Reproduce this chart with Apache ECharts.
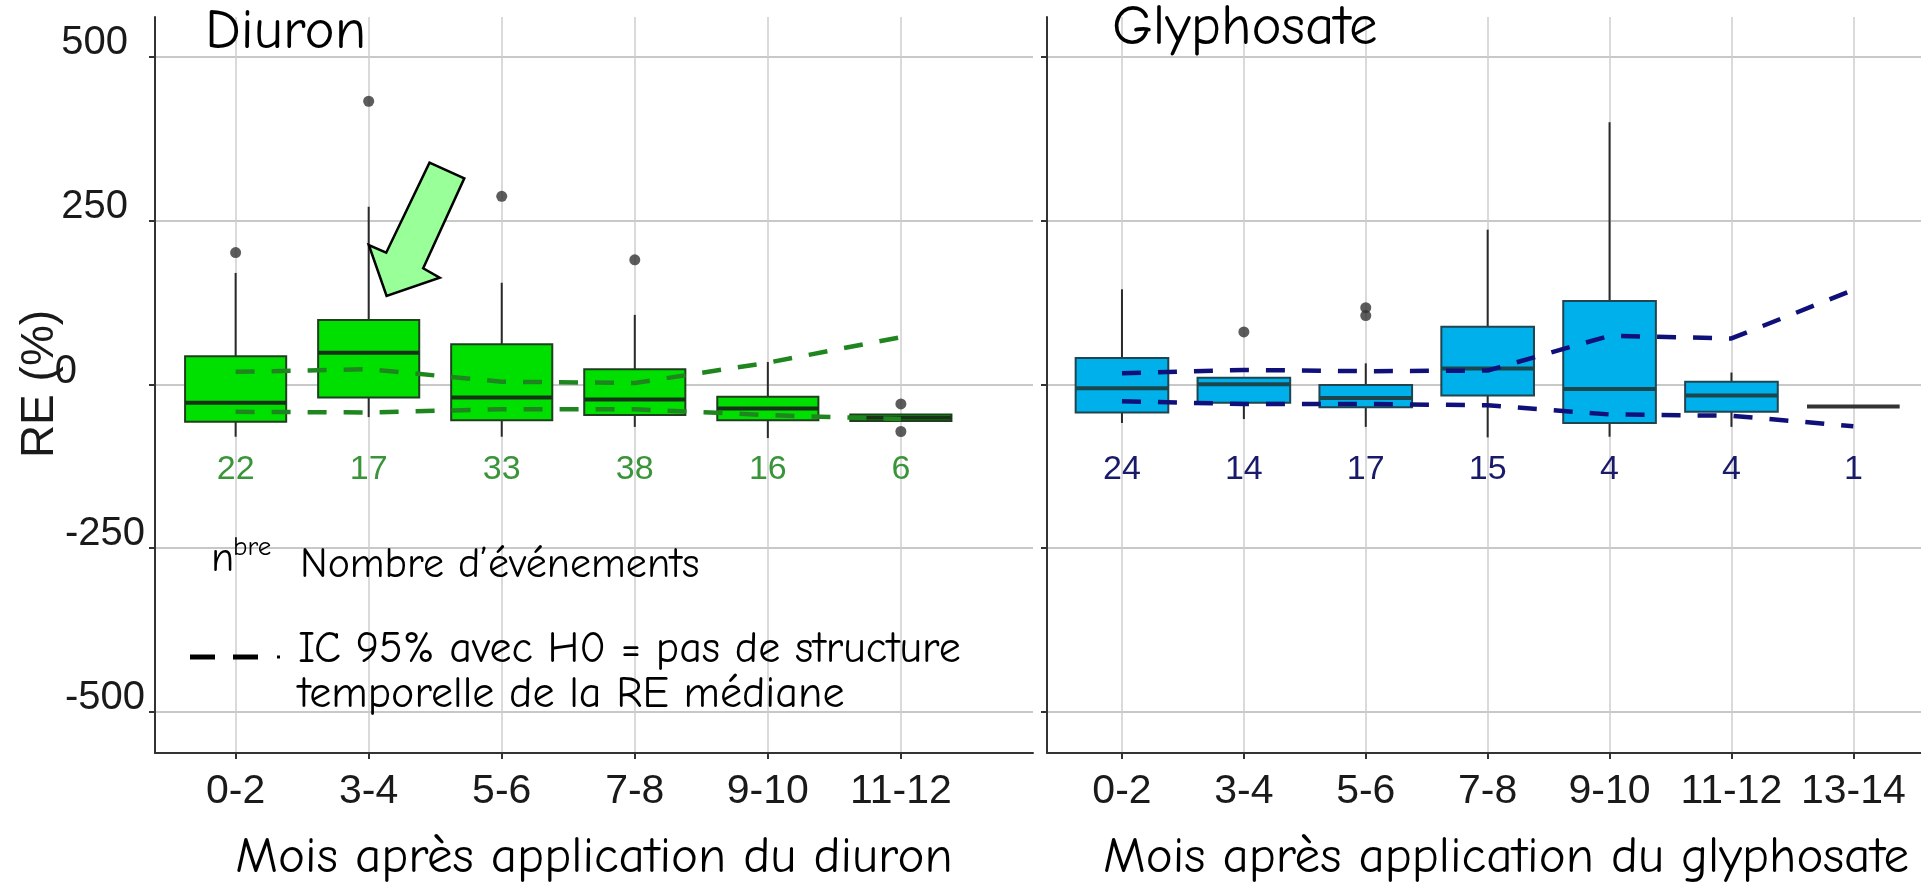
<!DOCTYPE html>
<html><head><meta charset="utf-8">
<script src="https://cdn.jsdelivr.net/npm/echarts@6/dist/echarts.min.js"></script>
<style>html,body{margin:0;padding:0;background:#fff}#c{width:1921px;height:896px}</style>
</head><body><div id="c"></div>
<script>
// ---------- DATA ----------
const diuronCategories = ['0-2', '3-4', '5-6', '7-8', '9-10', '11-12'];
const glyphoCategories = ['0-2', '3-4', '5-6', '7-8', '9-10', '11-12', '13-14'];
// each box: [lower whisker, Q1, median, Q3, upper whisker]
const diuronBoxes = [
  [-80, -57, -28, 43, 170],
  [-50, -20, 48, 98, 271],
  [-80, -55, -20, 61, 155],
  [-65, -47, -23, 23, 106],
  [-82, -55, -37, -19, 34],
  [-56, -56, -51, -46, -46]
];
const glyphoBoxes = [
  [-59, -43, -6, 40, 145],
  [-53, -28, 0, 10, 10],
  [-65, -35, -21, -1, 32],
  [-81, -17, 24, 88, 236],
  [-80, -59, -7, 127, 400],
  [-65, -42, -17, 4, 18],
  [-34, -34, -34, -34, -34]
];
const diuronOutliers = [['0-2', 201], ['3-4', 432], ['5-6', 287], ['7-8', 190], ['11-12', -30], ['11-12', -72]];
const glyphoOutliers = [['3-4', 80], ['5-6', 117], ['5-6', 105]];
const diuronCounts = [22, 17, 33, 38, 16, 6];
const glyphoCounts = [24, 14, 17, 15, 4, 4, 1];
const diuronIcUpper = [19, 23, 4, 2, 33, 72];
const diuronIcLower = [-42, -43, -38, -38, -47, -53];
const glyphoIcUpper = [17, 22, 20, 21, 74, 70, 144];
const glyphoIcLower = [-26, -30, -30, -32, -46, -48, -64];
const yTickValues = [-500, -250, 0, 250, 500];

// ---------- STYLE / LAYOUT ----------
const COUNT_Y = -130;
const BOX_WIDTH = 0.76;
const Y_MIN = -562.7, Y_MAX = 560.6;
const XL_MIN = 0.394, XL_MAX = 6.993, XR_MIN = 0.385, XR_MAX = 7.555;
const TICK_FONT = '"Liberation Sans", Arial, sans-serif';
const HAND_FONT = '"Comic Sans MS", "Comic Neue", "Noto Sans", sans-serif';
const styles = {
  diuron: { fill: '#00e000', border: '#1f3f1f', median: '#183218', ic: '#1f861f', count: '#3a953a' },
  glypho: { fill: '#00b0ea', border: '#204550', median: '#1b464c', ic: '#10107a', count: '#1a1a6a' }
};

function boxRenderer(st) {
  return function (params, api) {
    const x = api.value(0);
    const lo = api.coord([x, api.value(1)]);
    const q1 = api.coord([x, api.value(2)]);
    const md = api.coord([x, api.value(3)]);
    const q3 = api.coord([x, api.value(4)]);
    const hi = api.coord([x, api.value(5)]);
    const hw = api.size([BOX_WIDTH, 0])[0] / 2;
    const flat = Math.abs(q1[1] - q3[1]) < 0.5;
    const children = [
      { type: 'line', shape: { x1: hi[0], y1: hi[1], x2: q3[0], y2: q3[1] }, style: { stroke: '#2a2a2a', lineWidth: 2 } },
      { type: 'line', shape: { x1: lo[0], y1: lo[1], x2: q1[0], y2: q1[1] }, style: { stroke: '#2a2a2a', lineWidth: 2 } }
    ];
    if (!flat) {
      children.push({ type: 'rect', shape: { x: q3[0] - hw, y: q3[1], width: hw * 2, height: q1[1] - q3[1] },
        style: { fill: st.fill, stroke: st.border, lineWidth: 2 } });
      children.push({ type: 'line', shape: { x1: md[0] - hw, y1: md[1], x2: md[0] + hw, y2: md[1] },
        style: { stroke: st.median, lineWidth: 4 } });
    } else {
      children.push({ type: 'line', shape: { x1: md[0] - hw, y1: md[1], x2: md[0] + hw, y2: md[1] },
        style: { stroke: '#333', lineWidth: 4 } });
    }
    return { type: 'group', children };
  };
}
function countRenderer(st) {
  return function (params, api) {
    const p = api.coord([api.value(0), api.value(1)]);
    return { type: 'text', x: p[0], y: p[1],
      style: { text: String(api.value(2)), font: '34px ' + TICK_FONT, fill: st.count,
        align: 'center', verticalAlign: 'middle', textAlign: 'center', textVerticalAlign: 'middle' } };
  };
}
// the "0" tick label sits apart from the other y labels in the reference
function zeroLabelRenderer(params, api) {
  const p = api.coord([api.value(0), api.value(1)]);
  return { type: 'text', x: p[0] - 78, y: p[1] - 12,
    style: { text: String(api.value(1)), font: '40px ' + TICK_FONT, fill: '#1a1a1a',
      align: 'right', verticalAlign: 'middle', textAlign: 'right', textVerticalAlign: 'middle' } };
}

function xAxisFor(gridIndex, cats, min, max) {
  const vals = cats.map((c, i) => i + 1);
  return {
    type: 'value', gridIndex, min, max,
    axisLine: { show: true, onZero: false, lineStyle: { color: '#333', width: 2 } },
    axisTick: { show: true, length: 6, customValues: vals, lineStyle: { color: '#333', width: 2 } },
    axisLabel: { show: true, customValues: vals, formatter: v => cats[Math.round(v) - 1] || '',
      hideOverlap: false, fontSize: 41, fontFamily: TICK_FONT, color: '#1a1a1a', margin: 18 },
    splitLine: { show: true, lineStyle: { color: '#cecece', width: 1.5 } }
  };
}
function yAxisFor(gridIndex, showLabels) {
  return {
    type: 'value', gridIndex, min: Y_MIN, max: Y_MAX,
    axisLine: { show: true, onZero: false, lineStyle: { color: '#333', width: 2 } },
    axisTick: { show: true, length: 6, customValues: yTickValues, lineStyle: { color: '#333', width: 2 } },
    axisLabel: {
      show: showLabels, customValues: yTickValues.filter(v => v !== 0), margin: 10, hideOverlap: false,
      fontSize: 40, fontFamily: TICK_FONT, color: '#1a1a1a',
      formatter: v => (v > 0 ? '{pos|' + v + '}' : '{neg|' + v + '}'),
      rich: {
        pos: { fontSize: 40, fontFamily: TICK_FONT, color: '#1a1a1a', padding: [0, 17, 28, 0] },
        neg: { fontSize: 40, fontFamily: TICK_FONT, color: '#1a1a1a', padding: [0, 0, 28, 0] }
      }
    },
    splitLine: { show: true, lineStyle: { color: '#c8c8c8', width: 2 } }
  };
}

function panelSeries(idx, cats, boxes, outliers, counts, up, low, st) {
  return [
    { type: 'custom', xAxisIndex: idx, yAxisIndex: idx, z: 2, renderItem: boxRenderer(st),
      encode: { x: 0, y: [1, 2, 3, 4, 5] }, data: boxes.map((b, i) => [i + 1].concat(b)) },
    { type: 'line', xAxisIndex: idx, yAxisIndex: idx, z: 3, symbol: 'none', silent: true,
      lineStyle: { color: st.ic, width: 4.5, type: [19, 17] }, data: up.map((v, i) => [i + 1, v]) },
    { type: 'line', xAxisIndex: idx, yAxisIndex: idx, z: 3, symbol: 'none', silent: true,
      lineStyle: { color: st.ic, width: 4.5, type: [19, 17] }, data: low.map((v, i) => [i + 1, v]) },
    { type: 'scatter', xAxisIndex: idx, yAxisIndex: idx, z: 4, symbolSize: 11,
      itemStyle: { color: '#333' }, data: outliers.map(o => [cats.indexOf(o[0]) + 1, o[1]]) },
    { type: 'custom', xAxisIndex: idx, yAxisIndex: idx, z: 4, renderItem: countRenderer(st),
      encode: { x: 0, y: 1 }, data: counts.map((c, i) => [i + 1, COUNT_Y, c]) }
  ];
}

function txt(text, x, y, size, opts) {
  opts = opts || {};
  return { type: 'text', x, y, rotation: opts.rotation || 0, z: 100,
    style: { text, font: size + 'px ' + (opts.family || HAND_FONT), fill: opts.color || '#000',
      align: opts.align || 'left', textAlign: opts.align || 'left',
      verticalAlign: 'middle', textVerticalAlign: 'middle' } };
}

const chart = echarts.init(document.getElementById('c'), null, { renderer: 'canvas' });
chart.setOption({
  animation: false,
  backgroundColor: '#ffffff',
  grid: [
    { left: 155, top: 17, width: 878, height: 736, outerBoundsMode: 'none' },
    { left: 1047, top: 17, width: 874, height: 736, outerBoundsMode: 'none' }
  ],
  xAxis: [xAxisFor(0, diuronCategories, XL_MIN, XL_MAX), xAxisFor(1, glyphoCategories, XR_MIN, XR_MAX)],
  yAxis: [yAxisFor(0, true), yAxisFor(1, false)],
  series: [].concat(
    panelSeries(0, diuronCategories, diuronBoxes, diuronOutliers, diuronCounts, diuronIcUpper, diuronIcLower, styles.diuron),
    panelSeries(1, glyphoCategories, glyphoBoxes, glyphoOutliers, glyphoCounts, glyphoIcUpper, glyphoIcLower, styles.glypho),
    [{ type: 'custom', xAxisIndex: 0, yAxisIndex: 0, z: 5, clip: false, renderItem: zeroLabelRenderer,
       encode: { x: 0, y: 1 }, data: yTickValues.filter(v => v === 0).map(v => [XL_MIN, v]) }]
  ),
  graphic: [
    txt('Diuron', 205, 32, 57),
    txt('Glyphosate', 1112, 28, 57),
    txt('RE (%)', 40, 384, 46, { family: TICK_FONT, rotation: Math.PI / 2, align: 'center', color: '#1a1a1a' }),
    txt('Mois après application du diuron', 594, 858, 51, { align: 'center' }),
    txt('Mois après application du glyphosate', 1506, 858, 51, { align: 'center' }),
    txt('n', 211, 559, 42),
    txt('bre', 233, 547, 27),
    txt('Nombre d\u2019événements', 300, 565, 42),
    txt('IC 95% avec H0 = pas de structure', 298, 650, 44),
    txt('temporelle de la RE médiane', 298, 695, 44),
    { type: 'line', z: 100, shape: { x1: 190, y1: 657, x2: 215, y2: 657 }, style: { stroke: '#000', lineWidth: 5 } },
    { type: 'line', z: 100, shape: { x1: 233, y1: 657, x2: 258, y2: 657 }, style: { stroke: '#000', lineWidth: 5 } },
    { type: 'line', z: 100, shape: { x1: 277, y1: 657, x2: 280, y2: 657 }, style: { stroke: '#000', lineWidth: 3 } },
    { type: 'polygon', z: 100,
      shape: { points: [[429.5, 162.7], [464.3, 178.3], [423.2, 268.3], [439.7, 277.7], [386.6, 296], [368.8, 245], [386.2, 252.7]] },
      style: { fill: '#99ff99', stroke: '#000', lineWidth: 2.5, lineJoin: 'miter' } }
  ]
});
</script></body></html>
